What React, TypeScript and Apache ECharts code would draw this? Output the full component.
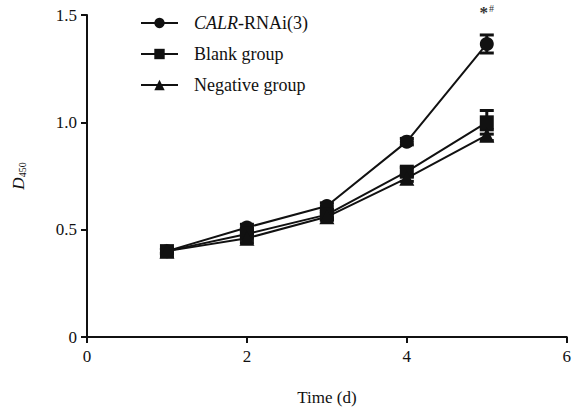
import React, { useEffect, useRef } from "react";
import * as echarts from "echarts";

const days = [1, 2, 3, 4, 5];
const calrMean = [0.4, 0.51, 0.61, 0.91, 1.365];
const calrErr = [0.01, 0.015, 0.015, 0.015, 0.042];
const blankMean = [0.4, 0.48, 0.57, 0.77, 1.0];
const blankErr = [0.01, 0.015, 0.015, 0.02, 0.055];
const negMean = [0.4, 0.46, 0.56, 0.74, 0.94];
const negErr = [0.01, 0.02, 0.015, 0.015, 0.025];
const seriesNames = ["CALR-RNAi(3)", "Blank group", "Negative group"];
const xTicks = [0, 2, 4, 6];
const yTicks = [0, 0.5, 1.0, 1.5];

const FONT = "'Liberation Serif', 'Times New Roman', serif";

function errData(mean: number[], err: number[]) {
  return days.map((d, i) => [d, mean[i] - err[i], mean[i] + err[i]]);
}

function errorSeries(name: string, mean: number[], err: number[]) {
  return {
    type: "custom",
    name: name + " (SD)",
    z: 3,
    renderItem: (params: any, api: any) => {
      const x = api.value(0);
      const lo = api.coord([x, api.value(1)]);
      const hi = api.coord([x, api.value(2)]);
      const hw = 7;
      const style = { stroke: "#111", lineWidth: 3 };
      return {
        type: "group",
        children: [
          { type: "line", shape: { x1: lo[0], y1: lo[1], x2: hi[0], y2: hi[1] }, style },
          { type: "line", shape: { x1: lo[0] - hw, y1: lo[1], x2: lo[0] + hw, y2: lo[1] }, style },
          { type: "line", shape: { x1: hi[0] - hw, y1: hi[1], x2: hi[0] + hw, y2: hi[1] }, style },
        ],
      };
    },
    data: errData(mean, err),
  };
}

export default function App() {
  const ref = useRef<HTMLDivElement>(null);
  useEffect(() => {
    document.body.style.margin = "0";
    const chart = echarts.init(ref.current!, null, { renderer: "svg" });
    const lineSeries = (name: string, mean: number[], symbol: string, size: number) => ({
      type: "line",
      name,
      symbol,
      symbolSize: size,
      z: 4,
      lineStyle: { color: "#111", width: 2 },
      itemStyle: { color: "#111" },
      data: days.map((d, i) => [d, mean[i]]),
    });
    const calr: any = lineSeries(seriesNames[0], calrMean, "circle", 14);
    calr.data[calr.data.length - 1] = {
      value: calr.data[calr.data.length - 1],
      label: {
        show: true,
        position: "top",
        distance: 16,
        formatter: "{a|*}{b|#}",
        rich: {
          a: { fontFamily: FONT, fontSize: 17, fontWeight: "bold", color: "#333", verticalAlign: "bottom" },
          b: { fontFamily: FONT, fontSize: 10, color: "#333", verticalAlign: "top", padding: [0, 0, 6, 1] },
        },
      },
    };
    chart.setOption({
      animation: false,
      color: ["#111", "#111", "#111"],
      backgroundColor: "#fff",
      grid: { left: 87, right: 5, top: 15, bottom: 74, containLabel: false },
      legend: {
        orient: "vertical",
        left: 135,
        top: 9,
        itemWidth: 37,
        itemHeight: 13,
        itemGap: 13,
        data: seriesNames,
        textStyle: {
          fontFamily: FONT,
          fontSize: 18,
          color: "#111",
          padding: [0, 0, 0, 11],
          rich: {
            i: { fontFamily: FONT, fontSize: 18, fontStyle: "italic", color: "#111" },
            n: { fontFamily: FONT, fontSize: 18, color: "#111" },
          },
        },
        formatter: (n: string) => (n.startsWith("CALR") ? "{i|CALR}{n|" + n.slice(4) + "}" : n),
      },
      xAxis: {
        type: "value",
        min: 0,
        max: 6,
        interval: 2,
        name: "Time (d)",
        nameLocation: "middle",
        nameGap: 52,
        nameTextStyle: { fontFamily: FONT, fontSize: 17, color: "#111" },
        axisLine: { lineStyle: { color: "#111", width: 2 } },
        axisTick: { show: true, length: 6, lineStyle: { color: "#111", width: 2 } },
        axisLabel: { fontFamily: FONT, fontSize: 17, color: "#111", margin: 11, formatter: (v: number) => (xTicks.includes(v) ? String(v) : "") },
        splitLine: { show: false },
      },
      yAxis: {
        type: "value",
        min: 0,
        max: 1.5,
        interval: 0.5,
        name: "{i|D}{s|450}",
        nameLocation: "middle",
        nameGap: 60,
        nameRotate: 90,
        nameTextStyle: {
          color: "#111",
          fontFamily: FONT,
          rich: {
            i: { fontFamily: FONT, fontSize: 17, fontStyle: "italic", color: "#111", verticalAlign: "bottom" },
            s: { fontFamily: FONT, fontSize: 10, color: "#111", verticalAlign: "bottom" },
          },
        },
        axisLine: { show: true, lineStyle: { color: "#111", width: 2 } },
        axisTick: { show: true, length: 6, lineStyle: { color: "#111", width: 2 } },
        axisLabel: {
          fontFamily: FONT,
          fontSize: 17,
          color: "#111",
          margin: 10,
          formatter: (v: number) => {
            const t = yTicks.find((y) => Math.abs(y - v) < 1e-9);
            return t === undefined ? "" : t === 0 ? "0" : t.toFixed(1);
          },
        },
        splitLine: { show: false },
      },
      series: [
        errorSeries(seriesNames[0], calrMean, calrErr),
        errorSeries(seriesNames[1], blankMean, blankErr),
        errorSeries(seriesNames[2], negMean, negErr),
        calr,
        lineSeries(seriesNames[1], blankMean, "rect", 14),
        lineSeries(seriesNames[2], negMean, "triangle", 15),
      ],
    });
    return () => chart.dispose();
  }, []);
  return <div ref={ref} style={{ width: 574, height: 411 }} />;
}
